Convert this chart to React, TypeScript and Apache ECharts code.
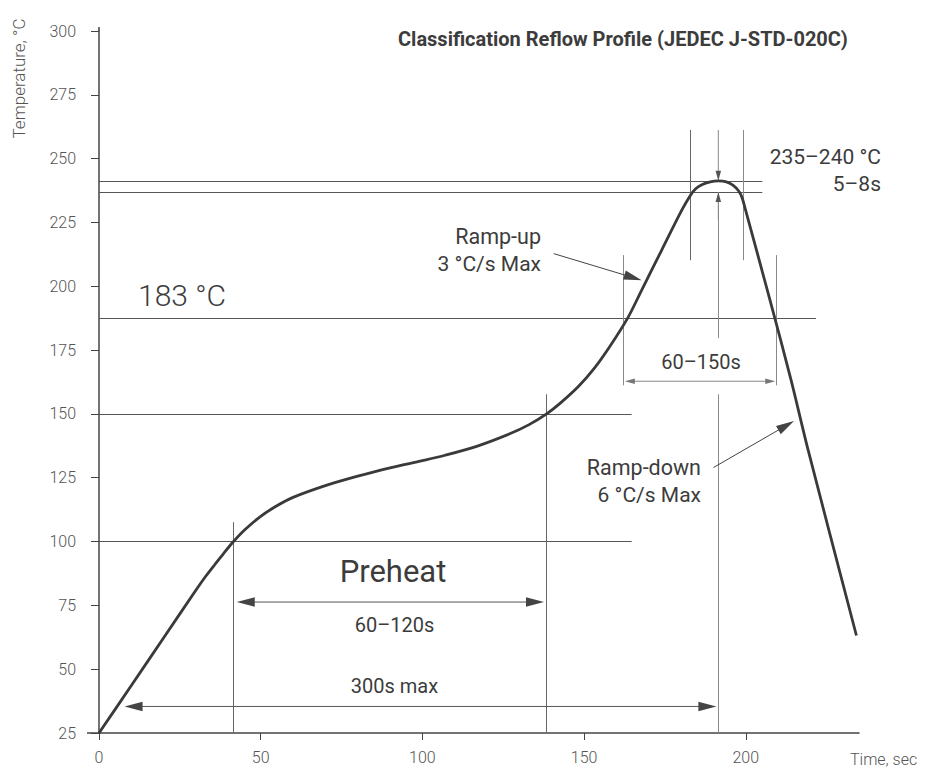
import React, { useEffect, useRef } from 'react';
import * as echarts from 'echarts';

// Reflow profile curve (time in s, temperature in °C)
const curveTime = [0, 10, 20, 30, 33, 36, 38.5, 41.6, 45, 50, 55, 60, 70, 80, 90, 100, 107, 117, 127, 133, 138.4, 143, 148.3, 153, 158, 163.5, 168, 174, 180.2, 182.8, 184.5, 186.4, 189, 191.5, 194, 196, 197.8, 198.9, 200, 207.5, 214, 219.3, 234.2];
const curveTemp = [25, 43.6, 62.3, 81, 86.4, 91.3, 95.3, 100, 104.5, 109.9, 114, 117.3, 121.9, 125.6, 128.9, 131.7, 133.8, 137.4, 142.2, 145.8, 150, 154.6, 160.8, 167.6, 176.5, 187.6, 199, 214.2, 229.8, 235.5, 238.2, 239.8, 240.9, 241.3, 240.9, 239.6, 237.3, 234.5, 229.5, 194.5, 163.2, 135.7, 63.2];

const xTicks = [0, 50, 100, 150, 200];

// horizontal reference lines: [xFrom, xTo, temp]
const hRefLines = [
  [0, 205.1, 241.3],
  [0, 205.1, 236.9],
  [0, 221.7, 187.5],
  [0, 164.7, 150],
  [0, 164.7, 100],
];
// vertical reference lines: [time, tempFrom, tempTo]
const vRefDark = [
  [41.6, 25, 107.6],
  [138.4, 25, 157.7],
  [182.8, 210.2, 261.2],
];
const vRefLight = [
  [162.2, 161.2, 212.2],
  [209.5, 161.2, 212.2],
  [199.2, 210.2, 261.2],
  [191.5, 179.7, 236.9],
  [191.5, 25, 157.7],
];
// double-headed span arrows: [xFrom, xTo, temp]
const spanArrowsBig = [
  [42.6, 137.6, 76.3],
  [7.9, 190.9, 35.4],
];
const spanArrowsSmall = [[162.6, 209.1, 162.8]];
// single-headed arrows: [x1, y1, x2, y2], tip at the second point
const pointerArrows = [
  [140.6, 212.8, 167.8, 202.4],
  [190.0, 129.0, 214.9, 147.2],
];
const peakArrows = [
  [191.5, 261.2, 191.5, 241.3],
  [191.5, 226.0, 191.5, 236.9],
];

const FONT = 'Roboto, "Noto Sans", sans-serif';

type ArrowSpec = { pts: number[]; both: boolean; big: boolean; color: string; lineColor: string };
const arrowSpecs: ArrowSpec[] = [
  ...spanArrowsBig.map(([a, b, y]) => ({ pts: [a, y, b, y], both: true, big: true, color: '#444', lineColor: '#555' })),
  ...spanArrowsSmall.map(([a, b, y]) => ({ pts: [a, y, b, y], both: true, big: false, color: '#777', lineColor: '#888' })),
  ...pointerArrows.map((p) => ({ pts: p, both: false, big: true, color: '#444', lineColor: '#444' })),
  ...peakArrows.map((p) => ({ pts: p, both: false, big: false, color: '#555', lineColor: '#888' })),
];

export default function App() {
  const ref = useRef<HTMLDivElement>(null);
  useEffect(() => {
    const chart = echarts.init(ref.current!, null, { renderer: 'svg' });
    const axisStyle = { color: '#444', width: 1.5 };
    const labelStyle = { fontFamily: FONT, fontSize: 16, fontWeight: 300, color: '#555' };
    const txt = (text: string, x: number, y: number, size: number, align: string, opts: any = {}) => ({
      type: 'text',
      x,
      y,
      silent: true,
      ...opts.el,
      style: {
        text,
        fontFamily: FONT,
        fontSize: size,
        fontWeight: opts.weight || 400,
        fill: opts.fill || '#3c3c3c',
        textAlign: align,
        align,
        textVerticalAlign: 'middle',
        verticalAlign: 'middle',
      },
    });
    const renderArrow = (params: any, api: any) => {
      const spec = arrowSpecs[params.dataIndex];
      const p1 = api.coord([api.value(0), api.value(1)]);
      const p2 = api.coord([api.value(2), api.value(3)]);
      const dx = p2[0] - p1[0];
      const dy = p2[1] - p1[1];
      const len = Math.sqrt(dx * dx + dy * dy) || 1;
      const ux = dx / len;
      const uy = dy / len;
      const nx = -uy;
      const ny = ux;
      const L = spec.big ? 18 : 10;
      const W = spec.big ? 9.5 : 5.5;
      const head = (tip: number[], sx: number, sy: number) => ({
        type: 'polygon',
        shape: {
          points: [
            [tip[0], tip[1]],
            [tip[0] - sx * L + nx * W / 2, tip[1] - sy * L + ny * W / 2],
            [tip[0] - sx * L - nx * W / 2, tip[1] - sy * L - ny * W / 2],
          ],
        },
        style: { fill: spec.color },
      });
      const start = spec.both ? [p1[0] + ux * L * 0.8, p1[1] + uy * L * 0.8] : p1;
      const end = [p2[0] - ux * L * 0.8, p2[1] - uy * L * 0.8];
      const children: any[] = [
        {
          type: 'line',
          shape: { x1: start[0], y1: start[1], x2: end[0], y2: end[1] },
          style: { stroke: spec.lineColor, lineWidth: 1 },
        },
        head(p2, ux, uy),
      ];
      if (spec.both) children.push(head(p1, -ux, -uy));
      return { type: 'group', children };
    };
    const option: any = {
      animation: false,
      grid: { left: 99, right: 67, top: 31, bottom: 34 },
      xAxis: {
        type: 'value',
        min: 0,
        max: 235,
        interval: 50,
        axisLine: { show: true, lineStyle: axisStyle },
        axisTick: { show: true, length: 7, lineStyle: { color: '#444', width: 1 }, customValues: xTicks },
        axisLabel: { margin: 16, ...labelStyle, customValues: xTicks },
        splitLine: { show: false },
      },
      yAxis: {
        type: 'value',
        min: 25,
        max: 300,
        interval: 25,
        axisLine: { show: true, lineStyle: axisStyle },
        axisTick: { show: true, length: 8, lineStyle: { color: '#444', width: 1 } },
        axisLabel: { margin: 23, ...labelStyle },
        splitLine: { show: false },
      },
      series: [
        {
          type: 'lines',
          coordinateSystem: 'cartesian2d',
          silent: true,
          z: 2,
          symbol: 'none',
          lineStyle: { color: '#555', width: 1, opacity: 1 },
          data: hRefLines.map(([a, b, y]) => ({ coords: [[a, y], [b, y]] })),
        },
        {
          type: 'lines',
          coordinateSystem: 'cartesian2d',
          silent: true,
          z: 2,
          symbol: 'none',
          lineStyle: { color: '#666', width: 1, opacity: 1 },
          data: vRefDark.map(([x, a, b]) => ({ coords: [[x, a], [x, b]] })),
        },
        {
          type: 'lines',
          coordinateSystem: 'cartesian2d',
          silent: true,
          z: 2,
          symbol: 'none',
          lineStyle: { color: '#8a8a8a', width: 1, opacity: 1 },
          data: vRefLight.map(([x, a, b]) => ({ coords: [[x, a], [x, b]] })),
        },
        {
          type: 'custom',
          coordinateSystem: 'cartesian2d',
          silent: true,
          clip: false,
          z: 3,
          renderItem: renderArrow,
          data: arrowSpecs.map((s) => s.pts),
        },
        {
          type: 'line',
          name: 'Reflow profile',
          z: 5,
          showSymbol: false,
          smooth: 0.3,
          lineStyle: { color: '#3a3a3a', width: 2.8 },
          data: curveTime.map((t, i) => [t, curveTemp[i]]),
        },
      ],
      graphic: [
        { type: 'line', silent: true, shape: { x1: 87, y1: 733, x2: 99, y2: 733 }, style: { stroke: '#444', lineWidth: 1.5 } },
        { type: 'line', silent: true, shape: { x1: 99, y1: 27, x2: 99, y2: 31 }, style: { stroke: '#444', lineWidth: 1.5 } },
        txt('Classification Reflow Profile (JEDEC J-STD-020C)', 398, 38.5, 20, 'left', { weight: 700 }),
        txt('235–240 °C', 881, 157, 21, 'right'),
        txt('5–8s', 881, 183.5, 21, 'right'),
        txt('Ramp-up', 541, 236, 21.5, 'right'),
        txt('3 °C/s Max', 541, 263.5, 21, 'right'),
        txt('Ramp-down', 701, 467.5, 21.5, 'right'),
        txt('6 °C/s Max', 701, 495, 21, 'right'),
        txt('183 °C', 138, 295.5, 30, 'left', { weight: 300 }),
        txt('Preheat', 393, 571, 31, 'center'),
        txt('60–120s', 394.5, 624.5, 20, 'center'),
        txt('60–150s', 701, 362, 20, 'center'),
        txt('300s max', 394.5, 686, 20, 'center'),
        txt('Time, sec', 850, 759, 16, 'left', { weight: 300, fill: '#555' }),
        txt('Temperature, °C', 18.5, 78.5, 17, 'center', { weight: 300, fill: '#555', el: { rotation: Math.PI / 2 } }),
      ],
    };
    chart.setOption(option);
    return () => chart.dispose();
  }, []);
  return (
    <div
      ref={ref}
      style={{ position: 'fixed', left: 0, top: 0, width: 926, height: 767, background: '#fff' }}
    />
  );
}
